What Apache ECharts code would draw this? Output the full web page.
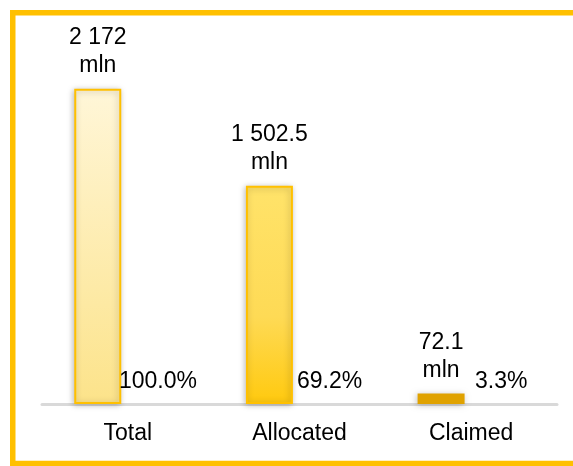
<!DOCTYPE html>
<html>
<head>
<meta charset="utf-8">
<script src="https://cdn.jsdelivr.net/npm/echarts@6/dist/echarts.min.js"></script>
<style>
  html, body { margin: 0; padding: 0; background: #fff; overflow: hidden; }
  #chart { width: 573px; height: 466px; }
</style>
</head>
<body>
<div id="chart"></div>
<script>
var categories = ['Total', 'Allocated', 'Claimed'];
var amounts = [2172, 1502.5, 72.1];
var amountLabels = ['2 172', '1 502.5', '72.1'];
var shares = ['100.0%', '69.2%', '3.3%'];

var lbFont = 'Liberation Sans, Arial, sans-serif';
var frameColor = '#FFC000';

var barStyles = [
  {
    color: new echarts.graphic.LinearGradient(0, 0, 0, 1, [
      { offset: 0, color: '#FFF6D8' },
      { offset: 1, color: '#FCE38A' }
    ]),
    borderColor: '#FFC000', borderWidth: 2
  },
  {
    color: new echarts.graphic.LinearGradient(0, 0, 0, 1, [
      { offset: 0, color: '#FFE36A' },
      { offset: 0.6, color: '#FEDA55' },
      { offset: 1, color: '#FFC90E' }
    ]),
    borderColor: '#FFC000', borderWidth: 2
  },
  { color: '#E0A200', borderWidth: 0 }
];

var chart = echarts.init(document.getElementById('chart'));

// frame: left, top and bottom edges (right edge sits outside the picture)
function frameLine(x1, y1, x2, y2) {
  return {
    type: 'line',
    shape: { x1: x1, y1: y1, x2: x2, y2: y2 },
    style: { stroke: frameColor, lineWidth: 5.5 },
    z: 100
  };
}

var option = {
  animation: false,
  grid: { left: 42, right: 16, top: 41, bottom: 62 },
  xAxis: {
    type: 'category',
    data: categories,
    axisLine: { lineStyle: { color: '#D9D9D9', width: 3 } },
    axisTick: { show: false },
    axisLabel: { color: '#000', fontSize: 23, fontFamily: lbFont, margin: 18 }
  },
  yAxis: {
    type: 'value',
    min: 0,
    max: 2500,
    show: false,
    splitLine: { show: false }
  },
  graphic: [
    frameLine(12.75, 10, 12.75, 466),
    frameLine(10, 12.75, 573, 12.75),
    frameLine(10, 463.5, 573, 463.5)
  ],
  series: [
    {
      name: 'Amount',
      type: 'bar',
      barWidth: 47,
      barGap: '28%',
      data: amounts.map(function (v, i) {
        return {
          value: v,
          itemStyle: Object.assign({
            shadowBlur: 6,
            shadowColor: 'rgba(0,0,0,0.25)',
            shadowOffsetX: -1,
            shadowOffsetY: 1
          }, barStyles[i])
        };
      }),
      label: {
        show: true,
        position: 'top',
        distance: 9,
        color: '#000',
        fontSize: 23,
        lineHeight: 28,
        fontFamily: lbFont,
        formatter: function (p) { return amountLabels[p.dataIndex] + '\nmln'; }
      }
    },
    {
      name: 'Share',
      type: 'bar',
      barWidth: 47,
      data: [0, 0, 0],
      itemStyle: { color: 'transparent' },
      label: {
        show: true,
        position: 'top',
        distance: 11,
        color: '#000',
        fontSize: 23,
        fontFamily: lbFont,
        formatter: function (p) { return shares[p.dataIndex]; }
      }
    }
  ]
};

chart.setOption(option);
</script>
</body>
</html>
